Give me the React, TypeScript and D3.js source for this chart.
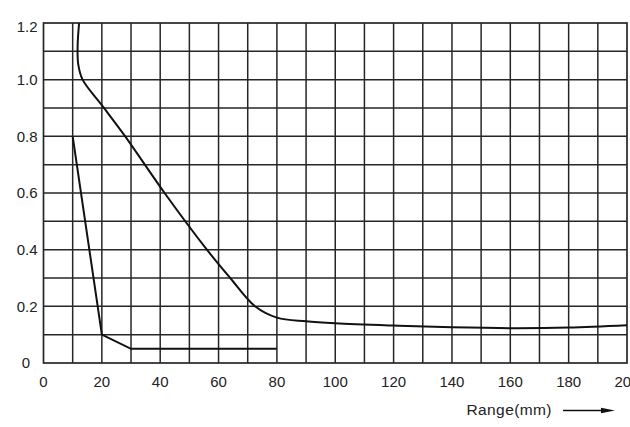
import React from "react";
import * as d3 from "d3";

const xTicks = [0, 20, 40, 60, 80, 100, 120, 140, 160, 180, 200];
const yTicks = [0, 0.2, 0.4, 0.6, 0.8, 1.0, 1.2];
const yTickLabels = ["0", "0.2", "0.4", "0.6", "0.8", "1.0", "1.2"];
const xGrid = d3.range(10, 200, 10);
const yGrid = [0.1, 0.2, 0.3, 0.4, 0.5, 0.6, 0.7, 0.8, 0.9, 1.0, 1.1];

// outer curve (range x, value y)
const outerX = [12.2, 11.7, 11.9, 13.4, 20, 28, 41.5, 56, 64, 72.5, 80, 90, 100, 120, 140, 160, 180, 200];
const outerY = [1.2, 1.12, 1.055, 1.0, 0.91, 0.8, 0.6, 0.4, 0.3, 0.2, 0.16, 0.147, 0.14, 0.132, 0.126, 0.123, 0.125, 0.133];

// inner curve
const innerX = [10, 20, 30, 80];
const innerY = [0.8, 0.1, 0.05, 0.05];

const W = 630;
const H = 427;
const left = 43.5;
const right = 627;
const top = 23;
const bottom = 363;

export default function App() {
  const x = d3.scaleLinear().domain([0, 200]).range([left, right]);
  const y = d3.scaleLinear().domain([0, 1.2]).range([bottom, top]);

  const outerPts: [number, number][] = outerX.map((v, i) => [v, outerY[i]]);
  const innerPts: [number, number][] = innerX.map((v, i) => [v, innerY[i]]);

  const smooth = d3
    .line<[number, number]>()
    .x((d) => x(d[0]))
    .y((d) => y(d[1]))
    .curve(d3.curveCatmullRom.alpha(0.5));
  const straight = d3
    .line<[number, number]>()
    .x((d) => x(d[0]))
    .y((d) => y(d[1]));

  const gridColor = "#262626";
  const textColor = "#222";
  const font = "'Liberation Sans', Arial, sans-serif";

  return (
    <svg
      width={W}
      height={H}
      style={{ position: "absolute", left: 0, top: 0, background: "#fff" }}
      fontFamily={font}
    >
      <rect x={0} y={0} width={W} height={H} fill="#fff" />
      {xGrid.map((v) => (
        <line key={"vx" + v} x1={x(v)} x2={x(v)} y1={top} y2={bottom} stroke={gridColor} strokeWidth={1.5} />
      ))}
      {yGrid.map((v) => (
        <line key={"hy" + v} x1={left} x2={right} y1={y(v)} y2={y(v)} stroke={gridColor} strokeWidth={1.5} />
      ))}
      <rect x={left} y={top} width={right - left} height={bottom - top} fill="none" stroke={gridColor} strokeWidth={1.7} />

      <path d={smooth(outerPts) || ""} fill="none" stroke="#111" strokeWidth={2} />
      <path d={straight(innerPts) || ""} fill="none" stroke="#111" strokeWidth={2} strokeLinejoin="miter" />

      {yTicks.map((v, i) => (
        <text
          key={"yt" + v}
          x={v === 0 ? 30 : 37.5}
          y={v === 1.2 ? y(v) + 4 : y(v)}
          dy="0.36em"
          textAnchor="end"
          fontSize={15}
          fill={textColor}
        >
          {yTickLabels[i]}
        </text>
      ))}
      {xTicks.map((v) => (
        <text key={"xt" + v} x={x(v)} y={387} textAnchor="middle" fontSize={15} fill={textColor}>
          {String(v)}
        </text>
      ))}

      <text x={466.5} y={414.5} fontSize={15.5} fill={textColor} textLength={85}>
        Range(mm)
      </text>
      <line x1={563} x2={604} y1={410.5} y2={410.5} stroke="#111" strokeWidth={1.3} />
      <path d="M601,407.8 L615,410.5 L601,413.2 Z" fill="#111" />
    </svg>
  );
}
